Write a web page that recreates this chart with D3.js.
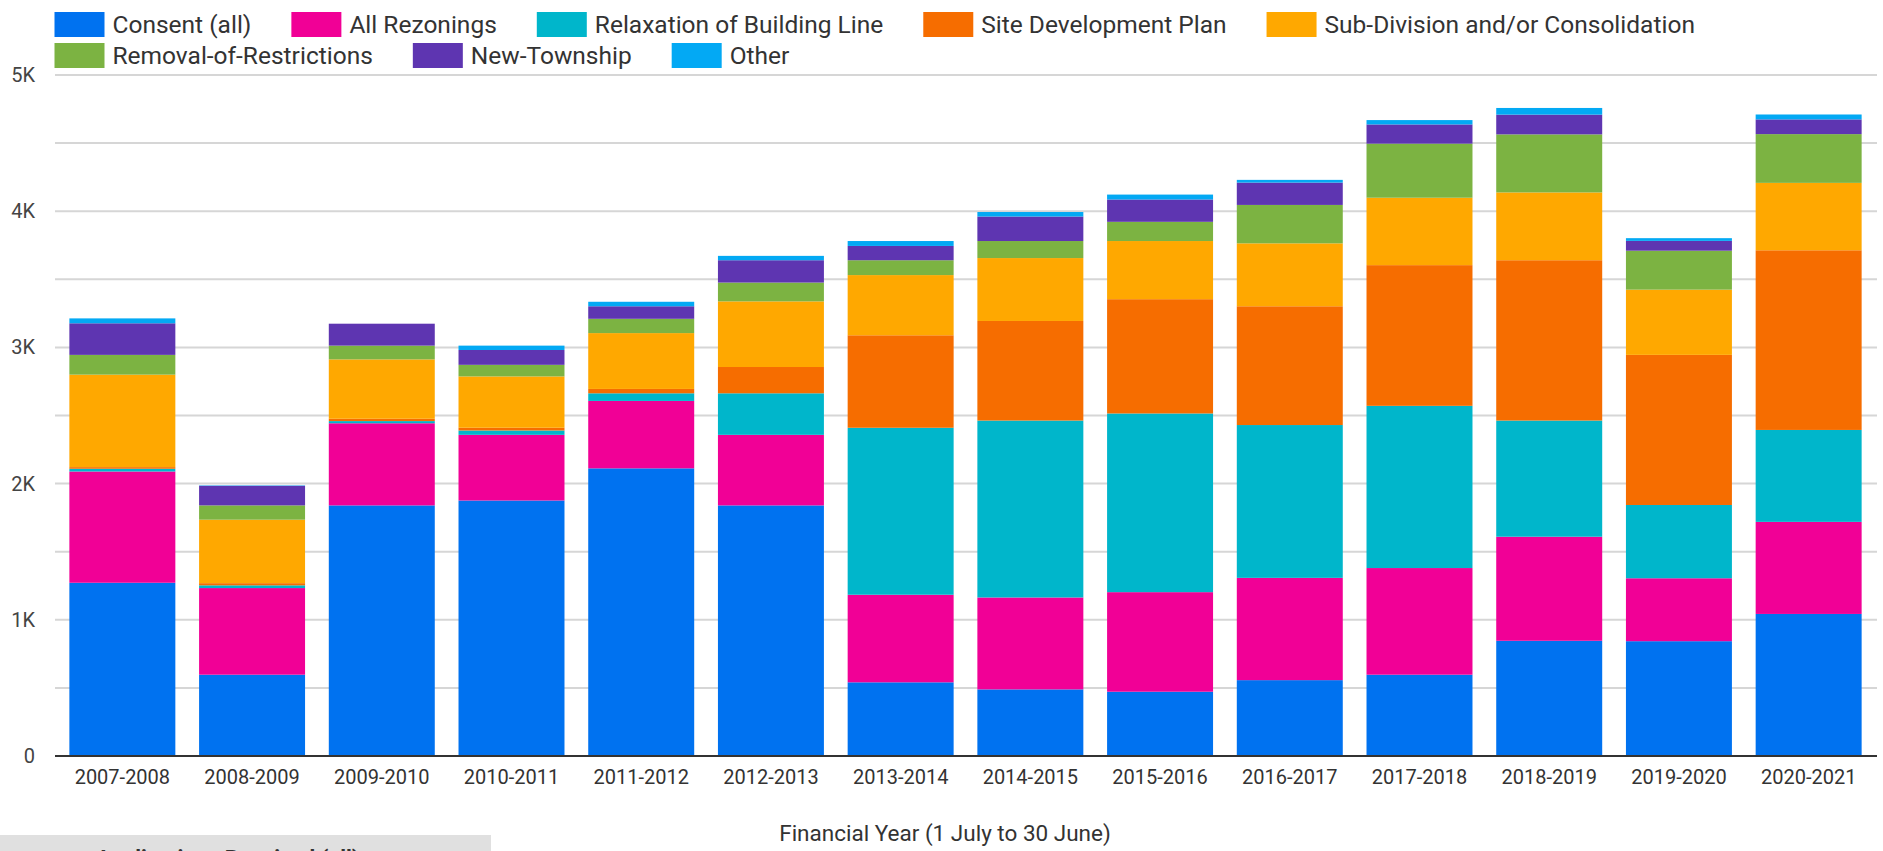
<!DOCTYPE html>
<html>
<head>
<meta charset="utf-8">
<script src="https://cdn.jsdelivr.net/npm/d3@7"></script>
<style>
  body { margin: 0; background: #fff; }
  text { font-family: Roboto, "Noto Sans", sans-serif; }
</style>
</head>
<body>
<div id="chart"></div>
<script>
var years = ["2007-2008","2008-2009","2009-2010","2010-2011","2011-2012","2012-2013","2013-2014",
             "2014-2015","2015-2016","2016-2017","2017-2018","2018-2019","2019-2020","2020-2021"];

var consent    = [1272, 597, 1840, 1876, 2112, 1840, 541, 489, 472, 557, 597, 846, 843, 1043];
var rezonings  = [817, 636, 603, 482, 495, 518, 643, 675, 731, 751, 783, 764, 462, 676];
var relaxation = [20, 20, 16, 32, 56, 305, 1226, 1299, 1312, 1122, 1191, 853, 538, 675];
var sdp        = [12, 16, 17, 20, 32, 193, 679, 731, 839, 872, 1033, 1177, 1102, 1319];
var subdiv     = [679, 466, 436, 377, 410, 482, 442, 462, 427, 462, 495, 498, 479, 495];
var removal    = [145, 105, 101, 85, 105, 138, 109, 125, 141, 282, 397, 426, 286, 358];
var township   = [232, 144, 161, 109, 92, 164, 105, 180, 164, 164, 141, 145, 72, 108];
var other      = [36, 3, 0, 32, 33, 32, 36, 33, 36, 20, 32, 49, 20, 36];

var seriesNames = ["Consent (all)", "All Rezonings", "Relaxation of Building Line", "Site Development Plan",
                   "Sub-Division and/or Consolidation", "Removal-of-Restrictions", "New-Township", "Other"];
var seriesValues = [consent, rezonings, relaxation, sdp, subdiv, removal, township, other];
var colors = ["#0072f0", "#f10096", "#00b6cb", "#f66d00", "#ffa800", "#7cb342", "#5e35b1", "#03a9f4"];

var yTicks = [0, 1000, 2000, 3000, 4000, 5000];
var yTickLabels = ["0", "1K", "2K", "3K", "4K", "5K"];

var W = 1883, H = 851;
var gridLeft = 55, gridRight = 1877;

var svg = d3.select("#chart").append("svg")
    .attr("width", W)
    .attr("height", H);

// build table for the stack
var table = years.map(function(yr, i) {
  var row = {year: yr};
  seriesNames.forEach(function(n, k) { row[n] = seriesValues[k][i]; });
  return row;
});
var stacked = d3.stack().keys(seriesNames)(table);

var x = d3.scaleBand().domain(years).range([57.5, 1873.5]).paddingInner(0.183).paddingOuter(0.0915);
var y = d3.scaleLinear().domain([0, 5000]).range([756, 75]);

// gridlines every 500
svg.append("g")
  .selectAll("line")
  .data(d3.range(500, 5001, 500))
  .enter().append("line")
    .attr("x1", gridLeft).attr("x2", gridRight)
    .attr("y1", function(d) { return y(d); })
    .attr("y2", function(d) { return y(d); })
    .attr("stroke", "#d6d6d6")
    .attr("stroke-width", 2);

// bars
svg.append("g")
  .selectAll("g")
  .data(stacked)
  .enter().append("g")
    .attr("fill", function(d, i) { return colors[i]; })
  .selectAll("rect")
  .data(function(d) { return d; })
  .enter().append("rect")
    .attr("x", function(d) { return x(d.data.year); })
    .attr("width", x.bandwidth())
    .attr("y", function(d) { return y(d[1]); })
    .attr("height", function(d) { return y(d[0]) - y(d[1]); });

// baseline
svg.append("line")
  .attr("x1", gridLeft).attr("x2", gridRight)
  .attr("y1", y(0)).attr("y2", y(0))
  .attr("stroke", "#333")
  .attr("stroke-width", 2);

// y axis
var yAxis = svg.append("g")
  .attr("transform", "translate(" + gridLeft + ",0)")
  .call(d3.axisLeft(y).tickValues(yTicks)
        .tickFormat(function(d, i) { return yTickLabels[i]; })
        .tickSize(0).tickPadding(20));
yAxis.select(".domain").remove();
yAxis.selectAll("text")
  .style("font-size", "20px")
  .style("font-family", "Roboto, sans-serif")
  .attr("fill", "#444");

// x axis
var xAxis = svg.append("g")
  .attr("transform", "translate(0," + y(0) + ")")
  .call(d3.axisBottom(x).tickSize(0).tickPadding(14));
xAxis.select(".domain").remove();
xAxis.selectAll("text")
  .style("font-size", "20px")
  .style("font-family", "Roboto, sans-serif")
  .attr("fill", "#333");

// axis title
svg.append("text")
  .attr("x", 945)
  .attr("y", 841)
  .attr("text-anchor", "middle")
  .style("font-size", "22.5px")
  .attr("fill", "#333")
  .text("Financial Year (1 July to 30 June)");

// legend, two rows
var legendRows = [[0, 1, 2, 3, 4], [5, 6, 7]];
legendRows.forEach(function(row, r) {
  var lx = 54.5;
  var ly = 12 + r * 31;
  row.forEach(function(k) {
    svg.append("rect")
      .attr("x", lx).attr("y", ly)
      .attr("width", 50).attr("height", 25)
      .attr("fill", colors[k]);
    var t = svg.append("text")
      .attr("x", lx + 58)
      .attr("y", ly + 12.5)
      .attr("dominant-baseline", "central")
      .style("font-size", "24.5px")
      .attr("fill", "#333")
      .text(seriesNames[k]);
    lx = lx + 58 + t.node().getComputedTextLength() + 40;
  });
});

// grey box at bottom left, its title runs past the frame as in the source
svg.append("rect")
  .attr("x", 0).attr("y", 835)
  .attr("width", 491).attr("height", 20)
  .attr("fill", "#e0e0e0");
svg.append("text")
  .attr("x", 96)
  .attr("y", 866)
  .style("font-size", "22px")
  .style("font-weight", "bold")
  .attr("fill", "#333")
  .text("Applications Received (all)");
</script>
</body>
</html>
